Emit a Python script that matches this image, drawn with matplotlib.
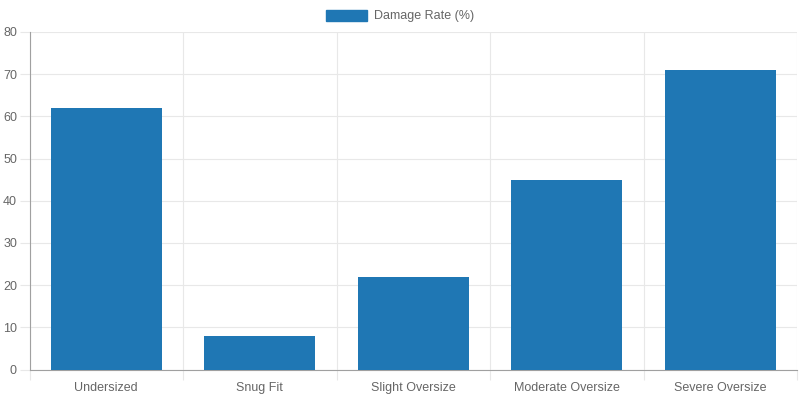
import matplotlib.pyplot as plt
import numpy as np
from matplotlib.patches import Patch

plt.rcParams['font.family'] = ['Liberation Sans', 'DejaVu Sans']

categories = ["Undersized", "Snug Fit", "Slight Oversize", "Moderate Oversize", "Severe Oversize"]
damage_rate = [62, 8, 22, 45, 71]
series_label = "Damage Rate (%)"

bar_color = "#1f77b4"
grid_color = "#e8e8e8"
axis_color = "#a0a0a0"
text_color = "#666666"

fig = plt.figure(figsize=(8, 4), dpi=100)
ax = fig.add_axes([29.5 / 800, 30.5 / 400, (797 - 29.5) / 800, (369.5 - 32) / 400])

x = np.arange(len(categories))
ax.bar(x, damage_rate, width=0.72, color=bar_color, zorder=3)

ax.set_xlim(-0.5, len(categories) - 0.5)
ax.set_ylim(0, 80)

# gridlines at category boundaries, labels at centers
ax.set_xticks(np.arange(len(categories) + 1) - 0.5)
ax.set_xticklabels([])
ax.set_xticks(x, minor=True)
ax.set_xticklabels(categories, minor=True)
ax.tick_params(axis='x', which='major', length=7, color=grid_color, width=0.8)
ax.tick_params(axis='x', which='minor', length=0, pad=9, labelsize=9, labelcolor=text_color)

ax.set_yticks(np.arange(0, 81, 10))
ax.tick_params(axis='y', length=7, color=grid_color, width=0.8, pad=2, labelsize=9, labelcolor=text_color)

ax.grid(True, which='major', color=grid_color, linewidth=0.8, zorder=0)

for side in ['top', 'right']:
    ax.spines[side].set_visible(False)
for side in ['left', 'bottom']:
    ax.spines[side].set_color(axis_color)
    ax.spines[side].set_linewidth(0.8)

handle = Patch(facecolor=bar_color, edgecolor=bar_color)
fig.legend([handle], [series_label], loc='center', bbox_to_anchor=(0.5, 1 - 16 / 400),
           frameon=False, fontsize=9, labelcolor=text_color,
           handlelength=3.3, handleheight=1.0, handletextpad=0.6)

fig.savefig("out.png", dpi=100)
